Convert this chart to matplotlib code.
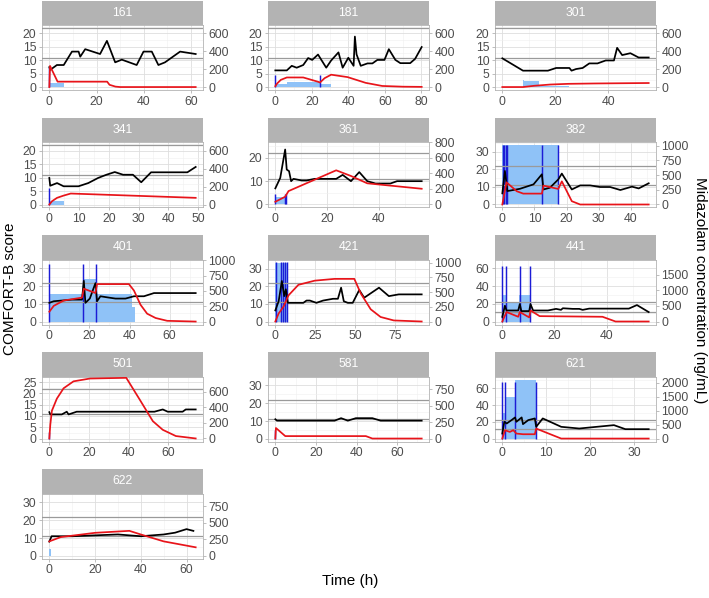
import matplotlib
matplotlib.use('Agg')
import matplotlib.pyplot as plt
import numpy as np

plt.rcParams['font.family'] = ['Liberation Sans', 'DejaVu Sans']

# ---------------- data ----------------
ids = ['161', '181', '301', '341', '361', '382', '401', '421', '441', '501', '581', '621', '622']

# COMFORT-B score (time h, score)
s161_t = [0, 0.4, 3.2, 6.1, 9.6, 12.4, 13.1, 15.2, 21.5, 24.4, 27.9, 30.7, 37.0, 39.9, 43.4, 46.2, 49.0, 55.4, 62.0]
s161_v = [7.4, 6.4, 8.2, 8.2, 13.2, 13.2, 11.3, 14.1, 12.3, 17.2, 9.2, 10.2, 8.2, 13.2, 13.2, 8.2, 9.2, 13.2, 12.3]
s181_t = [0, 6.3, 9, 11.7, 15.3, 18, 20.2, 23.4, 27.9, 30.6, 34.6, 36.9, 40, 42.9, 43.6, 44.5, 46.8, 50.5, 53.2, 55.9, 59.8, 62.2, 65.8, 68.5, 73.9, 76.6, 80.2]
s181_v = [6.2, 6.2, 7.9, 7.2, 8.2, 10.8, 10.1, 12.1, 7.2, 9.9, 12.9, 7.2, 10.9, 7.9, 18.8, 12.2, 7.9, 8.8, 8.8, 10.1, 10.1, 14.1, 10.1, 8.9, 8.9, 10.5, 14.9]
s301_t = [0, 7.8, 17.2, 20.3, 25.3, 26.1, 27.8, 30.3, 32.8, 35.9, 39, 42.1, 43.3, 45.2, 48.3, 51.4, 55.2]
s301_v = [10.7, 6.1, 6.1, 7.1, 7.1, 6.1, 6.7, 7.1, 8.8, 8.8, 9.9, 9.9, 14.6, 11.9, 12.6, 11, 11]
s341_t = [0, 0.3, 2.6, 4.8, 9.8, 13.1, 16.4, 19.2, 22, 24.8, 28.1, 30.9, 34.2, 46.4, 49.2]
s341_v = [9.9, 7, 8, 6.8, 6.8, 8, 9.9, 11.1, 12.1, 11.1, 11.1, 8.3, 12, 12, 14]
s361_t = [0, 1.9, 3.8, 4.4, 5.3, 6.1, 7, 10.2, 12.1, 15.2, 23.5, 26, 29.2, 32.4, 35.5, 38.7, 44.4, 47, 56.5]
s361_v = [6.9, 11.4, 23.6, 15, 14.3, 10, 11, 10.3, 10.3, 11, 11, 12.7, 10, 13.9, 10, 9, 9, 10, 10]
s382_t = [0, 0.8, 1.6, 5.5, 9.7, 12.3, 12.8, 14.8, 17.4, 18.5, 21.6, 24.2, 27.3, 30.4, 33.5, 36.7, 40.3, 42.4, 45.5]
s382_v = [6.3, 19, 7.6, 8.9, 11.4, 17.1, 8.5, 9.5, 14.2, 17.5, 8.5, 10.8, 10.8, 9.9, 9.9, 8.2, 10.1, 9.1, 12]
s401_t = [0, 2.2, 6.3, 11.3, 16.3, 17.2, 18, 20.2, 23, 23.8, 25.5, 28.8, 33, 38, 42.2, 47.2, 52.2, 73]
s401_v = [10.6, 11.5, 11.9, 12.4, 12.4, 23, 10.6, 13, 21.7, 11.5, 14.3, 13.7, 13, 13, 14.3, 14.3, 16.1, 16.1]
s421_t = [0, 2.1, 4.1, 5.6, 6.6, 7.9, 17.6, 19.6, 21.7, 25.8, 30, 36.2, 39.3, 41.3, 43, 45.5, 48.6, 52.7, 55.8, 65.1, 71.3, 77.5, 91.9]
s421_v = [6.3, 11.5, 23, 14.4, 18.3, 10.6, 10.6, 11.9, 11.9, 10.6, 11.9, 12.9, 12.9, 19.2, 11.5, 10.6, 10.6, 17.9, 13.5, 19.2, 14.4, 15.4, 15.4]
s441_t = [0, 1, 1.6, 6.1, 6.7, 7.3, 10.3, 10.8, 11.8, 17.5, 20.6, 22.5, 23.2, 27, 29.5, 30.8, 33.3, 38.4, 42.2, 48.5, 51.6, 56.1]
s441_v = [5.4, 18, 12.6, 12.6, 19.8, 11.9, 11.9, 19.8, 12.6, 12.6, 14.4, 13.3, 15.1, 14.4, 14.4, 13.3, 14.7, 14.7, 14.7, 14.7, 18.7, 10.8]
s501_t = [0, 0.5, 6.3, 8.8, 9.7, 13.8, 53, 57.2, 59.7, 67.2, 68.8, 73.8]
s501_v = [11.7, 10.7, 10.7, 11.9, 10.7, 11.9, 11.9, 12.9, 11.9, 11.9, 12.9, 12.9]
s581_t = [0, 0.8, 29.2, 32.4, 35.7, 39.7, 47.8, 51.9, 72.1]
s581_v = [11, 10.2, 10.2, 11.6, 10.2, 11.6, 11.6, 10.2, 10.2]
s621_t = [0, 0.45, 1, 2.1, 2.9, 3.2, 4.4, 4.7, 5.9, 7.4, 7.7, 9.2, 13.4, 17.5, 25.4, 28, 33.3]
s621_v = [6, 20, 18, 22, 25.2, 20, 25.2, 17.2, 22, 24, 14, 24, 14, 12, 16, 11.2, 11.2]
s622_t = [0, 1, 10, 20, 30, 40, 50, 55, 60, 63]
s622_v = [8, 11, 11, 11.5, 12, 11, 12, 13, 15, 14]

# Midazolam concentration (time h, ng/mL)
c161_t = [0, 0.3, 3.5, 24.5, 25.5, 28, 30, 62]
c161_v = [0, 236, 60, 60, 25, 5, 0, 0]
c181_t = [0, 1, 3, 6.3, 15.3, 23.4, 24.5, 27, 30.6, 39.6, 49.5, 58.6, 70, 80.2]
c181_v = [10, 40, 80, 107, 107, 59, 51, 99, 138, 111, 47, 12, 4, 2]
c301_t = [0, 7.8, 12, 18, 25, 35, 55.2]
c301_v = [0, 0, 14, 28, 36, 40, 45]
c341_t = [0, 0.9, 2.6, 4.8, 7.2, 49.2]
c341_v = [0, 37, 75, 100, 123, 75]
c361_t = [0, 3.8, 5.1, 23.5, 29.2, 35.5, 56.5]
c361_v = [35, 100, 173, 441, 368, 273, 203]
c382_t = [0, 1.3, 4.5, 6.5, 12.3, 12.8, 17.4, 18.5, 21.6, 24.2, 45.5]
c382_v = [0, 376, 225, 185, 185, 320, 264, 393, 56, 0, 0]
c401_t = [0, 2.2, 7.2, 16.3, 17.2, 23, 23.8, 39.7, 42.2, 45.5, 48.8, 53, 58.8, 73]
c401_v = [160, 256, 343, 390, 535, 465, 610, 610, 506, 273, 128, 58, 12, 0]
c421_t = [0, 2.1, 5.2, 8.3, 14.5, 24.8, 37.2, 49.6, 53.7, 59.9, 66.1, 74.4, 91.9]
c421_v = [0, 137, 256, 446, 625, 696, 726, 726, 476, 208, 77, 18, 0]
c441_t = [0, 1.6, 6.1, 6.7, 10.3, 10.8, 14.3, 38.4, 43.4, 56.1]
c441_v = [0, 304, 152, 304, 132, 355, 172, 152, 0, 0]
c501_t = [0, 0.5, 1.3, 3.8, 7.2, 12.2, 20.5, 38.8, 45.5, 52.2, 57.2, 63.8, 73.8]
c501_v = [0, 178, 356, 511, 644, 733, 769, 778, 502, 222, 111, 31, 0]
c581_t = [0, 0.3, 4.9, 44.6, 47.8, 72.1]
c581_v = [0, 160, 37, 37, 0, 0]
c621_t = [0, 0.6, 1.7, 2.5, 3.2, 4.7, 7.4, 7.7, 13.4, 33.3]
c621_v = [0, 298, 238, 298, 179, 155, 155, 357, 0, 0]
c622_t = [0, 5, 20, 35, 40, 50, 64]
c622_v = [215, 280, 345, 375, 320, 215, 125]

# Continuous infusion (start h, end h, height on score axis)
i161_s, i161_e, i161_h = [0], [6.3], [1.5]
i181_s, i181_e, i181_h = [0, 6.3, 24.5], [6.3, 24.5, 30.6], [1.0, 2.0, 1.0]
i301_s, i301_e, i301_h = [7.8, 8.3, 14.0], [8.3, 14.0, 25.0], [2.8, 2.2, 0.5]
i341_s, i341_e, i341_h = [0], [5], [1.5]
i361_s, i361_e, i361_h = [0], [4.5], [3.0]
i382_s, i382_e, i382_h = [0], [17.6], [33.5]
i401_s, i401_e, i401_h = [0, 17, 23.5, 41.3], [17, 23.5, 41.3, 42.5], [15.5, 24, 15.5, 8]
i421_s, i421_e, i421_h = [0], [7.8], [33]
i441_s, i441_e, i441_h = [0, 1.3, 6.5], [1.3, 6.5, 10.5], [30, 21, 30]
i501_s, i501_e, i501_h = [], [], []
i581_s, i581_e, i581_h = [], [], []
i621_s, i621_e, i621_h = [0, 0.5, 2.8], [0.5, 2.8, 7.6], [30, 50, 70]
i622_s, i622_e, i622_h = [0], [0.6], [4]

# Bolus doses (time h, height on score axis)
b161_t, b161_h = [0], [7.5]
b181_t, b181_h = [0, 24.5], [4.6, 4.4]
b301_t, b301_h = [], []
b341_t, b341_h = [0], [6.2]
b361_t, b361_h = [0, 3.8, 4.2], [4.3, 4.3, 4.3]
b382_t, b382_h = [0.2, 0.6, 1.0, 1.4, 12.4, 17.4], [33.5] * 6
b401_t, b401_h = [0, 17, 23.3], [32.2] * 3
b421_t, b421_h = [0.4, 3.7, 5.0, 6.2, 7.6], [34] * 5
b441_t, b441_h = [0, 1.3, 6.6, 10.6], [63] * 4
b501_t, b501_h = [0], [3]
b581_t, b581_h = [0], [5]
b621_t, b621_h = [0, 0.7, 2.8, 7.6], [68] * 4
b622_t, b622_h = [], []

# scale settings per panel
ylims = {'161': (-1.1, 23.1), '181': (-1.1, 23.1), '301': (-1.1, 23.1), '341': (-1.1, 23.1),
         '361': (-1.3, 26.6), '382': (-1.7, 35.1), '401': (-1.6, 33.7), '421': (-1.7, 35.2),
         '441': (-3.2, 66.3), '501': (-1.3, 26.5), '581': (-1.5, 31.4), '621': (-3.5, 74.0),
         '622': (-1.5, 31.4)}
yticks = {'161': [0, 5, 10, 15, 20], '181': [0, 5, 10, 15, 20], '301': [0, 5, 10, 15, 20],
          '341': [0, 5, 10, 15, 20], '361': [0, 10, 20], '382': [0, 10, 20, 30],
          '401': [0, 10, 20, 30], '421': [0, 10, 20, 30], '441': [0, 20, 40, 60],
          '501': [0, 5, 10, 15, 20, 25], '581': [0, 10, 20, 30], '621': [0, 20, 40, 60],
          '622': [0, 10, 20, 30]}
rticks = {'161': [0, 200, 400, 600], '181': [0, 200, 400, 600], '301': [0, 200, 400, 600],
          '341': [0, 200, 400, 600], '361': [0, 200, 400, 600, 800],
          '382': [0, 250, 500, 750, 1000], '401': [0, 250, 500, 750, 1000],
          '421': [0, 250, 500, 750, 1000], '441': [0, 500, 1000, 1500],
          '501': [0, 200, 400, 600], '581': [0, 250, 500, 750],
          '621': [0, 500, 1000, 1500, 2000], '622': [0, 250, 500, 750]}
xticks = {'161': [0, 20, 40, 60], '181': [0, 20, 40, 60, 80], '301': [0, 20, 40],
          '341': [0, 10, 20, 30, 40, 50], '361': [0, 20, 40], '382': [0, 10, 20, 30, 40],
          '401': [0, 20, 40, 60], '421': [0, 25, 50, 75], '441': [0, 20, 40],
          '501': [0, 20, 40, 60], '581': [0, 20, 40, 60], '621': [0, 10, 20, 30],
          '622': [0, 20, 40, 60]}
SCALE = 30.0  # ng/mL per score unit on the secondary axis

# ---------------- figure ----------------
W, H = 709, 598
fig = plt.figure(figsize=(W / 100, H / 100), dpi=100)


def px_axes(x0, y0, w, h):
    return fig.add_axes([x0 / W, 1 - (y0 + h) / H, w / W, h / H])


col_left = [42, 268, 495]
strip_top = [0.5, 118, 235, 352, 469]
PW, SH, PH = 161, 24.5, 65

G = globals()
tick_col = '#4D4D4D'
for i, pid in enumerate(ids):
    r, c = divmod(i, 3)
    x0 = col_left[c]
    sy = strip_top[r]
    # strip
    sax = px_axes(x0, sy, PW, SH)
    sax.set_facecolor('#B3B3B3')
    sax.set_xticks([]); sax.set_yticks([])
    for sp in sax.spines.values():
        sp.set_visible(False)
    sax.text(0.5, 0.5, pid, color='white', fontsize=8.8, ha='center', va='center',
             transform=sax.transAxes)
    # panel
    ax = px_axes(x0, sy + SH, PW, PH)
    ax.set_facecolor('white')
    st, sv = G['s%s_t' % pid], G['s%s_v' % pid]
    ct, cv = G['c%s_t' % pid], G['c%s_v' % pid]
    i_s, i_e, i_h = G['i%s_s' % pid], G['i%s_e' % pid], G['i%s_h' % pid]
    bt, bh = G['b%s_t' % pid], G['b%s_h' % pid]
    tmax = max(st + ct + i_e)
    xl = (-0.05 * tmax, 1.05 * tmax)

    if len(i_s):
        ax.bar(i_s, i_h, width=np.array(i_e) - np.array(i_s), align='edge',
               color='#8FC2F7', lw=0, zorder=2)
    if len(bt):
        ax.vlines(bt, 0, bh, color='#1C1CD6', lw=1.05, zorder=3)
    ax.axhline(11, color='#9A9A9A', lw=0.9, zorder=3)
    ax.axhline(22, color='#9A9A9A', lw=0.9, zorder=3)
    ax.plot(st, sv, color='black', lw=1.25, zorder=4, solid_joinstyle='round')

    ax.set_xlim(*xl)
    ax.set_ylim(*ylims[pid])
    ax.set_xticks(xticks[pid])
    ax.set_yticks(yticks[pid])
    xt, yt = xticks[pid], yticks[pid]
    ax.set_xticks([(a + b) / 2 for a, b in zip(xt[:-1], xt[1:])] +
                  [xt[-1] + (xt[1] - xt[0]) / 2], minor=True)
    ax.set_yticks([(a + b) / 2 for a, b in zip(yt[:-1], yt[1:])] +
                  [yt[-1] + (yt[1] - yt[0]) / 2], minor=True)
    ax.grid(which='major', color='#DEDEDE', lw=0.6, zorder=0)
    ax.grid(which='minor', color='#EFEFEF', lw=0.4, zorder=0)
    ax.set_axisbelow(True)
    ax.tick_params(which='major', length=2.5, width=0.6, color='#B3B3B3',
                   labelsize=8.8, labelcolor=tick_col, pad=1.5)
    ax.tick_params(which='minor', length=0)
    for sp in ax.spines.values():
        sp.set_color('#B3B3B3'); sp.set_linewidth(0.6)

    tw = ax.twinx()
    tw.plot(ct, cv, color='#E8141A', lw=1.25, zorder=5, solid_joinstyle='round')
    lo, hi = ylims[pid]
    tw.set_ylim(lo * SCALE, hi * SCALE)
    tw.set_yticks(rticks[pid])
    tw.tick_params(length=2.5, width=0.6, color='#B3B3B3', labelsize=8.8,
                   labelcolor=tick_col, pad=1.5)
    for sp in tw.spines.values():
        sp.set_visible(False)
    tw.set_xlim(*xl)

fig.text(10 / W, 1 - 289 / H, 'COMFORT-B score', rotation=90, ha='center', va='center',
         fontsize=11)
fig.text(700 / W, 1 - 290 / H, 'Midazolam concentration (ng/mL)', rotation=-90,
         ha='center', va='center', fontsize=11)
fig.text(350 / W, 1 - 581 / H, 'Time (h)', ha='center', va='center', fontsize=11)

fig.savefig('out.png', dpi=100)
